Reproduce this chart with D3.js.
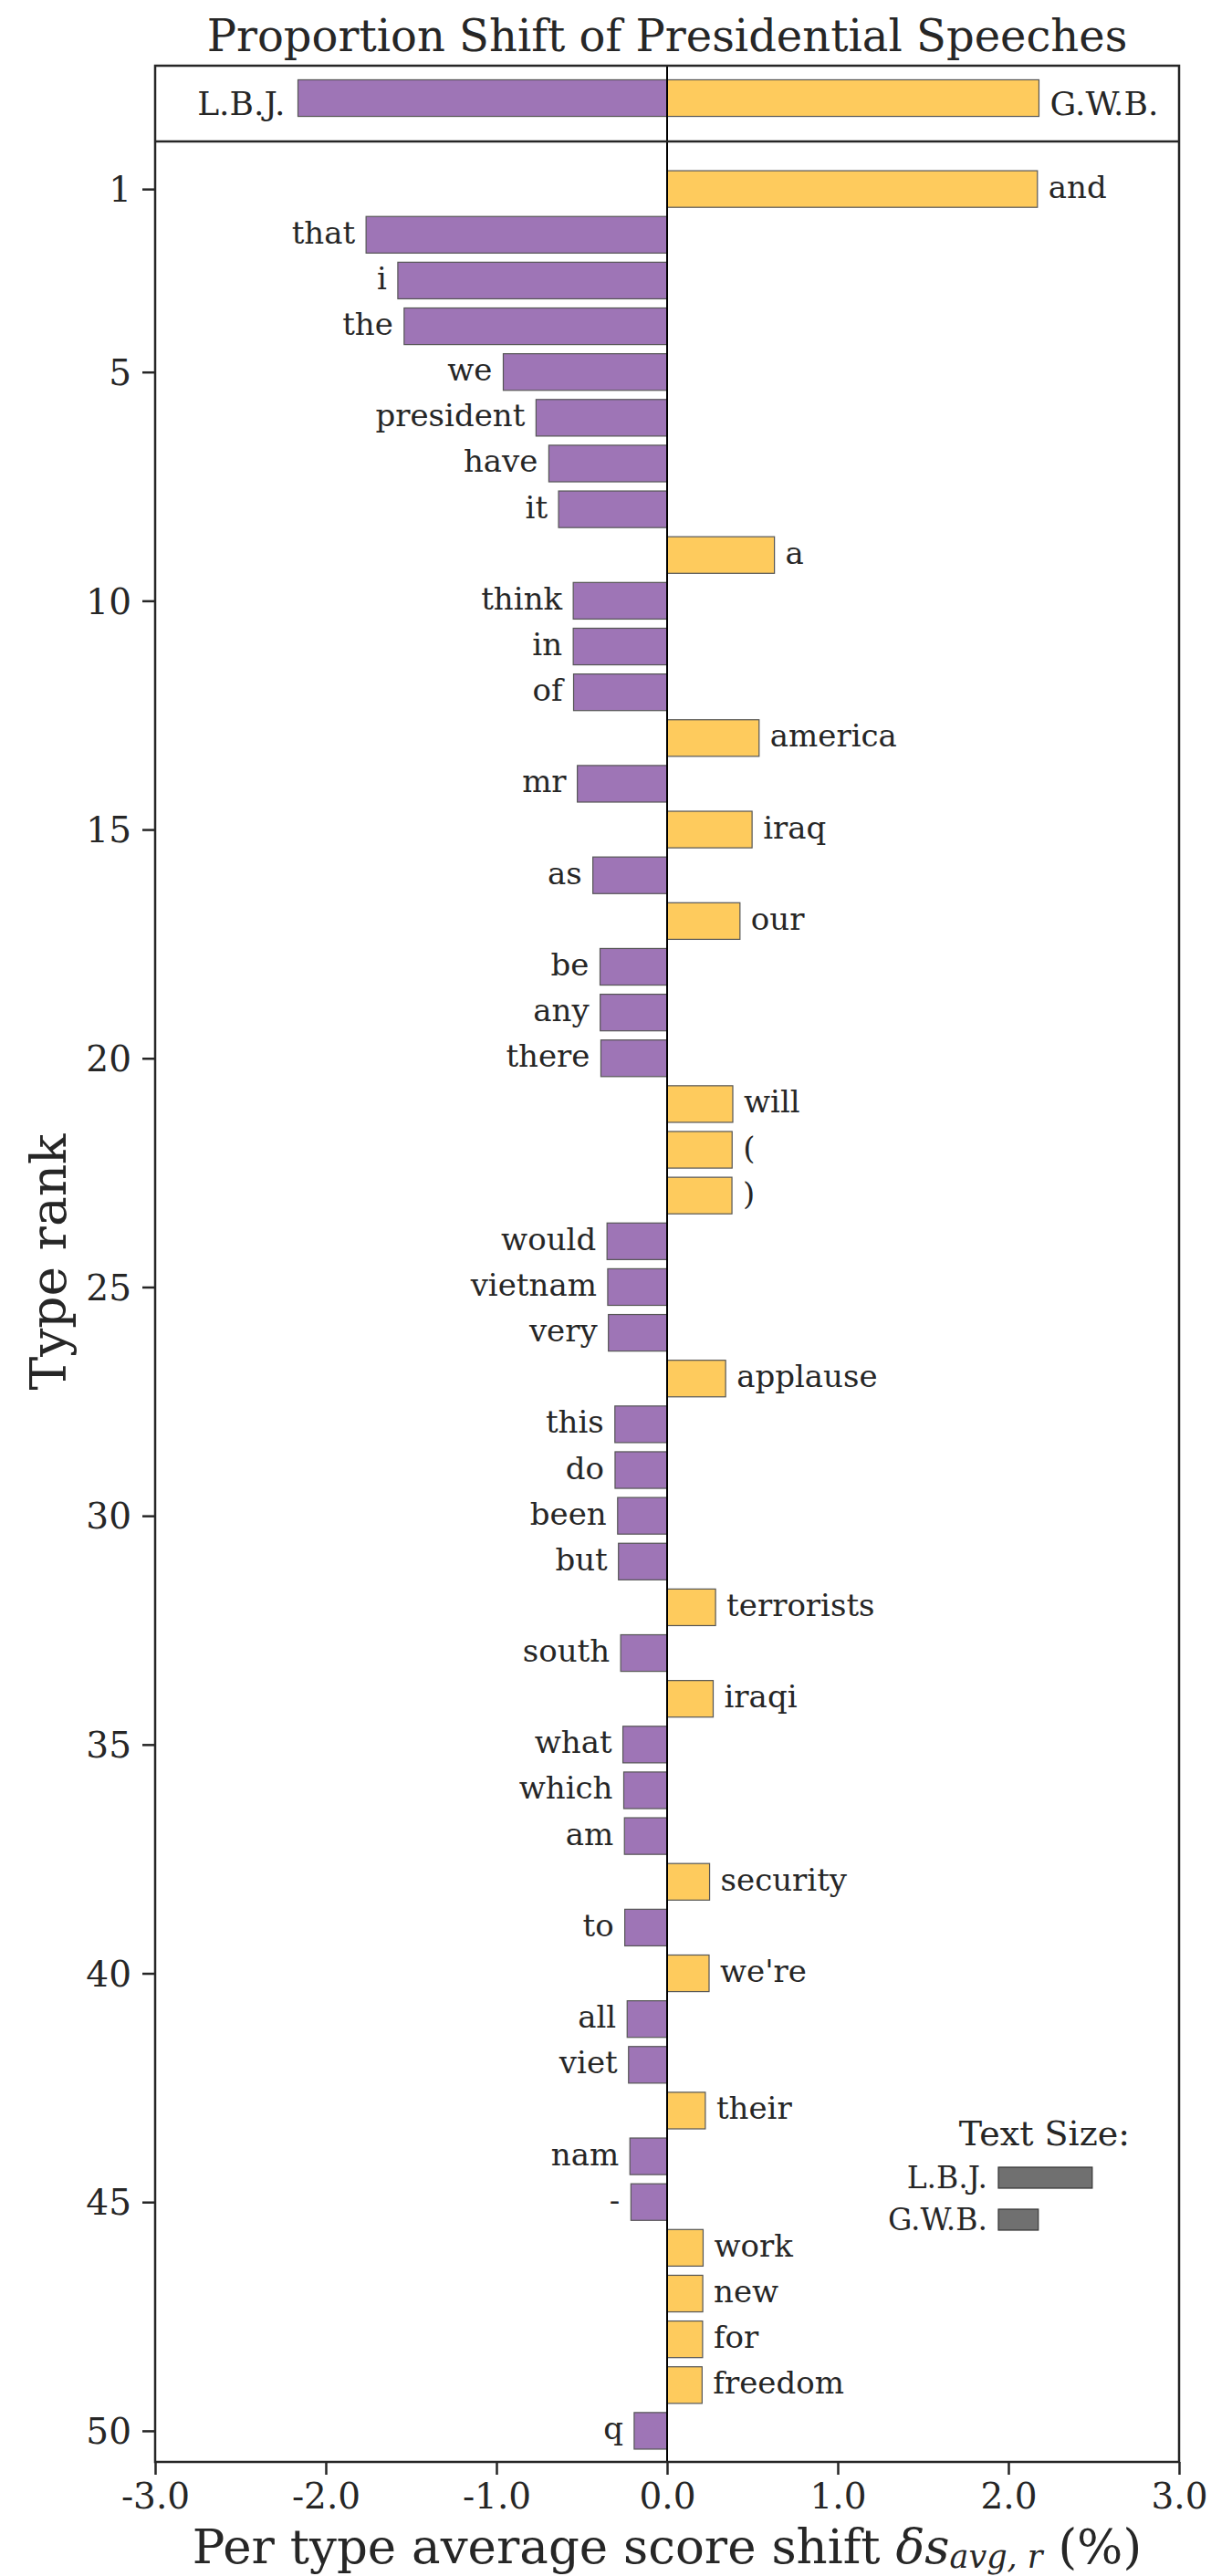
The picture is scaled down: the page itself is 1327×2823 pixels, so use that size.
<!DOCTYPE html>
<html>
<head>
<meta charset="utf-8">
<script src="https://cdn.jsdelivr.net/npm/d3@7"></script>
<style>
  html, body { margin: 0; padding: 0; background: #fff; }
  svg { display: block; }
  text { font-family: "DejaVu Serif", serif; fill: #262626; }
</style>
</head>
<body>
<svg id="chart" width="1327" height="2823"></svg>
<script>
// Word types, ordered by rank (1 = largest contribution)
const words = ["and","that","i","the","we","president","have","it","a","think",
  "in","of","america","mr","iraq","as","our","be","any","there",
  "will","(",")","would","vietnam","very","applause","this","do","been",
  "but","terrorists","south","iraqi","what","which","am","security","to","we're",
  "all","viet","their","nam","-","work","new","for","freedom","q"];

// Per-type average score shift (%); negative = L.B.J., positive = G.W.B.
const shifts = [2.17,-1.764,-1.578,-1.541,-0.960,-0.768,-0.693,-0.636,0.629,-0.550,
  -0.550,-0.548,0.539,-0.526,0.498,-0.435,0.427,-0.393,-0.392,-0.388,
  0.385,0.381,0.380,-0.352,-0.348,-0.344,0.343,-0.306,-0.305,-0.290,
  -0.285,0.284,-0.272,0.270,-0.259,-0.254,-0.250,0.249,-0.248,0.246,
  -0.234,-0.226,0.224,-0.218,-0.212,0.211,0.209,0.208,0.205,-0.193];

// Summed shift per speaker (top panel)
const speakers = ["L.B.J.", "G.W.B."];
const speakerTotals = [-2.163, 2.179];

// Relative text size of each corpus (legend bars, in x units)
const textSizeLabels = ["L.B.J.", "G.W.B."];
const textSizes = [0.55, 0.234];

const xTicks = [-3, -2, -1, 0, 1, 2, 3];
const yTicks = [1, 5, 10, 15, 20, 25, 30, 35, 40, 45, 50];

const purple = "#9e75b6";
const yellow = "#fecb5d";
const ink = "#262626";

const svg = d3.select("#chart");

const x = d3.scaleLinear().domain([-3, 3]).range([170, 1292]);
const y = d3.scaleLinear().domain([-0.04, 50.68]).range([155, 2698]);
const bandH = (y(1) - y(0)) * 0.8;

const topPanel = { top: 72, bottom: 155 };
const plotBottom = y.range()[1];

// Title
svg.append("text")
  .attr("x", (x.range()[0] + x.range()[1]) / 2)
  .attr("y", 56)
  .attr("text-anchor", "middle")
  .style("font-size", "48px")
  .text("Proportion Shift of Presidential Speeches");

// ---- Top panel: totals per speaker ----
const topMid = (topPanel.top + topPanel.bottom) / 2 - 6;
const topG = svg.append("g");
topG.selectAll("rect")
  .data(speakerTotals)
  .join("rect")
  .attr("x", d => Math.min(x(0), x(d)))
  .attr("y", topMid - bandH / 2)
  .attr("width", d => Math.abs(x(d) - x(0)))
  .attr("height", bandH)
  .attr("fill", d => d < 0 ? purple : yellow)
  .attr("stroke", "#555")
  .attr("stroke-width", 1.2);
topG.selectAll("text")
  .data(speakerTotals)
  .join("text")
  .attr("x", d => d < 0 ? x(d) - 14 : x(d) + 12)
  .attr("y", topMid)
  .attr("dy", "0.5em")
  .attr("text-anchor", d => d < 0 ? "end" : "start")
  .style("font-size", "36px")
  .text((d, i) => speakers[i]);

// ---- Main panel: word bars ----
const rows = words.map((w, i) => ({ word: w, rank: i + 1, value: shifts[i] }));

const barG = svg.append("g");
barG.selectAll("rect")
  .data(rows)
  .join("rect")
  .attr("x", d => Math.min(x(0), x(d.value)))
  .attr("y", d => y(d.rank) - bandH / 2)
  .attr("width", d => Math.abs(x(d.value) - x(0)))
  .attr("height", bandH)
  .attr("fill", d => d.value < 0 ? purple : yellow)
  .attr("stroke", "#555")
  .attr("stroke-width", 1.2);

barG.selectAll("text")
  .data(rows)
  .join("text")
  .attr("x", d => d.value < 0 ? x(d.value) - 12 : x(d.value) + 12)
  .attr("y", d => y(d.rank))
  .attr("dy", "0.28em")
  .attr("text-anchor", d => d.value < 0 ? "end" : "start")
  .style("font-size", "34px")
  .text(d => d.word);

// Zero line through both panels
svg.append("line")
  .attr("x1", x(0)).attr("x2", x(0))
  .attr("y1", topPanel.top).attr("y2", plotBottom)
  .attr("stroke", "#000").attr("stroke-width", 2);

// Frame: outer box plus divider between panels
const frame = svg.append("g").attr("stroke", ink).attr("stroke-width", 2.5).attr("fill", "none");
frame.append("rect")
  .attr("x", x.range()[0]).attr("y", topPanel.top)
  .attr("width", x.range()[1] - x.range()[0])
  .attr("height", plotBottom - topPanel.top);
frame.append("line")
  .attr("x1", x.range()[0]).attr("x2", x.range()[1])
  .attr("y1", topPanel.bottom).attr("y2", topPanel.bottom);

// ---- Axes ----
const xAxis = d3.axisBottom(x)
  .tickValues(xTicks)
  .tickSize(14)
  .tickPadding(7)
  .tickFormat(d => d < 0 ? "-" + Math.abs(d).toFixed(1) : d.toFixed(1));
const xg = svg.append("g")
  .attr("transform", `translate(0,${plotBottom})`)
  .call(xAxis);
xg.select(".domain").remove();
xg.selectAll(".tick line").attr("stroke", ink).attr("stroke-width", 2.5);
xg.selectAll(".tick text")
  .attr("fill", ink)
  .style("font-family", "DejaVu Serif")
  .style("font-size", "39px")
  .attr("dy", "0.78em");

const yAxis = d3.axisLeft(y)
  .tickValues(yTicks)
  .tickSize(14)
  .tickPadding(12)
  .tickFormat(d3.format("d"));
const yg = svg.append("g")
  .attr("transform", `translate(${x.range()[0]},0)`)
  .call(yAxis);
yg.select(".domain").remove();
yg.selectAll(".tick line").attr("stroke", ink).attr("stroke-width", 2.5);
yg.selectAll(".tick text")
  .attr("fill", ink)
  .style("font-family", "DejaVu Serif")
  .style("font-size", "39px")
  .attr("dy", "0.35em");

// Axis titles
const xLabel = svg.append("text")
  .attr("x", (x.range()[0] + x.range()[1]) / 2)
  .attr("y", 2809)
  .attr("text-anchor", "middle")
  .style("font-size", "53px");
xLabel.append("tspan").text("Per type average score shift ");
xLabel.append("tspan").style("font-style", "italic").text("δs");
xLabel.append("tspan").style("font-style", "italic").style("font-size", "35px")
  .attr("dy", 5).text("avg, r");
xLabel.append("tspan").attr("dy", -5).text(" (%)");

svg.append("text")
  .attr("transform", `translate(72,1383) rotate(-90)`)
  .attr("text-anchor", "middle")
  .style("font-size", "55px")
  .text("Type rank");

// ---- Legend: text size of each corpus ----
const legend = svg.append("g");
legend.append("text")
  .attr("x", 1238).attr("y", 2351)
  .attr("text-anchor", "end")
  .style("font-size", "38px")
  .text("Text Size:");
const legendX0 = 1094;
const legendRows = [2386.5, 2432.5];
legend.selectAll("rect")
  .data(textSizes)
  .join("rect")
  .attr("x", legendX0)
  .attr("y", (d, i) => legendRows[i] - 11.5)
  .attr("width", d => x(d) - x(0))
  .attr("height", 23)
  .attr("fill", "#707070")
  .attr("stroke", "#333")
  .attr("stroke-width", 1.2);
legend.selectAll("text.lbl")
  .data(textSizeLabels)
  .join("text")
  .attr("class", "lbl")
  .attr("x", legendX0 - 12)
  .attr("y", (d, i) => legendRows[i] + 11.5)
  .attr("text-anchor", "end")
  .style("font-size", "33px")
  .text(d => d);
</script>
</body>
</html>
